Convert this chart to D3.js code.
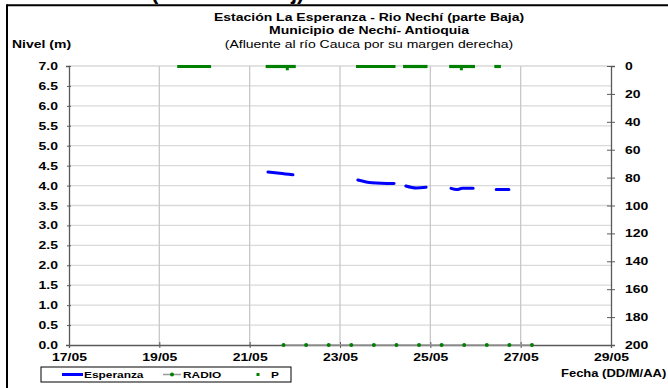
<!DOCTYPE html>
<html><head><meta charset="utf-8">
<script src="https://cdn.jsdelivr.net/npm/d3@7"></script>
<style>
html,body{margin:0;padding:0;background:#fff;}
svg{display:block;font-family:"Liberation Sans",Arial,sans-serif;}
</style></head>
<body>
<svg id="c" width="668" height="388"></svg>
<script>
// ---------- DATA ----------
const titleLines = ["Estación La Esperanza - Rio Nechí  (parte Baja)", "Municipio de Nechí- Antioquia", "(Afluente al río Cauca por su margen derecha)"];
const leftAxisTitle = "Nivel (m)";
const xAxisTitle = "Fecha (DD/M/AA)";
const xTickDates = ["2011-05-17","2011-05-19","2011-05-21","2011-05-23","2011-05-25","2011-05-27","2011-05-29"];
const yLeftTicks = [0,0.5,1,1.5,2,2.5,3,3.5,4,4.5,5,5.5,6,6.5,7];
const yRightTicks = [0,20,40,60,80,100,120,140,160,180,200];

// Esperanza level (m); null breaks the line
const espTimes = ["2011-05-21T09:45","2011-05-21T16:00","2011-05-21T23:00",null,
  "2011-05-23T09:30","2011-05-23T17:00","2011-05-24T04:45",null,
  "2011-05-24T11:00","2011-05-24T16:30","2011-05-24T21:45",null,
  "2011-05-25T11:00","2011-05-25T14:00","2011-05-25T17:00","2011-05-25T22:45",null,
  "2011-05-26T11:00","2011-05-26T17:45"];
const espValues = [4.34,4.31,4.27,null,
  4.14,4.07,4.05,null,
  3.99,3.94,3.96,null,
  3.93,3.90,3.93,3.93,null,
  3.90,3.90];

// RADIO level (m)
const radioTimes = ["2011-05-21T18:00","2011-05-22T06:00","2011-05-22T18:00","2011-05-23T06:00",
  "2011-05-23T18:00","2011-05-24T06:00","2011-05-24T18:00","2011-05-25T06:00",
  "2011-05-25T18:00","2011-05-26T06:00","2011-05-26T18:00","2011-05-27T06:00"];
const radioValues = [0,0,0,0,0,0,0,0,0,0,0,0];

// P (mm, right reversed axis) – continuous runs of readings and single readings
const pRunStart = ["2011-05-19T09:30","2011-05-21T08:30","2011-05-23T08:30","2011-05-24T09:30","2011-05-25T10:00","2011-05-26T10:00"];
const pRunEnd   = ["2011-05-20T03:30","2011-05-22T00:30","2011-05-24T05:30","2011-05-24T22:30","2011-05-25T23:45","2011-05-26T13:30"];
const pRunValue = [0,0,0,0,0,0];
const pPointTimes = ["2011-05-21T20:00","2011-05-25T16:30"];
const pPointValues = [2,2];

// ---------- CHART ----------
const parse = d3.utcParse("%Y-%m-%dT%H:%M");
const parseD = d3.utcParse("%Y-%m-%d");
const pt = s => s ? parse(s) : null;
const SX = 1.4; // horizontal text stretch of original image
const svg = d3.select("#c");
const L=69, R=611, T=66, B=345;

const x = d3.scaleUtc().domain([parseD("2011-05-17"), parseD("2011-05-29")]).range([L,R]);
const yL = d3.scaleLinear().domain([0,7]).range([B,T]);
const yR = d3.scaleLinear().domain([0,200]).range([T,B]);
const xTicks = xTickDates.map(parseD);

// frame
svg.append("line").attr("x1",7).attr("x2",668).attr("y1",5.3).attr("y2",5.3).attr("stroke","#000").attr("stroke-width",2);
svg.append("line").attr("x1",7).attr("x2",7).attr("y1",4.3).attr("y2",388).attr("stroke","#000").attr("stroke-width",2);

// clipped upper title (only its lower edge is visible in the original)
svg.append("text").attr("x",151).attr("y",-1.5).attr("font-size",22).attr("font-weight","bold").text("(");
svg.append("text").attr("x",291).attr("y",-1.5).attr("font-size",22).attr("font-weight","bold").text("j)");

function stretchedText(xp, yp, txt, size, weight, anchor, sx){
  svg.append("g").attr("transform",`translate(${xp},${yp}) scale(${sx||SX},1)`)
    .append("text").attr("font-size",size).attr("font-weight",weight).attr("text-anchor",anchor).attr("fill","#000").text(txt);
}
stretchedText(369, 21, titleLines[0], 10, "bold", "middle");
stretchedText(369, 34, titleLines[1], 10, "bold", "middle");
stretchedText(369, 48, titleLines[2], 10, "normal", "middle");
stretchedText(12, 48, leftAxisTitle, 10, "bold", "start");
stretchedText(561, 377, xAxisTitle, 10, "bold", "start", 1.3);

// gridlines
svg.append("g").selectAll("line").data(yLeftTicks.filter(v=>v>0)).join("line")
  .attr("x1",L).attr("x2",R).attr("y1",d=>yL(d)).attr("y2",d=>yL(d))
  .attr("stroke","#d9d9d9").attr("stroke-width",1.3);
svg.append("g").selectAll("line").data(xTicks.slice(1,-1)).join("line")
  .attr("x1",d=>x(d)).attr("x2",d=>x(d)).attr("y1",T).attr("y2",B)
  .attr("stroke","#c8c8c8").attr("stroke-width",1.3);

// axes
const axisColor = "#5a5a5a";
function styleAxis(g){
  g.select(".domain").attr("stroke",axisColor).attr("stroke-width",1.3);
  g.selectAll(".tick line").attr("stroke",axisColor);
  g.selectAll(".tick text").attr("font-size",10).attr("font-weight","bold").attr("fill","#000")
    .attr("font-family","Liberation Sans, Arial, sans-serif");
}
const gL = svg.append("g").attr("transform",`translate(${L},0)`)
  .call(d3.axisLeft(yL).tickValues(yLeftTicks).tickFormat(d3.format(".1f")).tickSizeOuter(0).tickSize(3));
styleAxis(gL);
gL.selectAll(".tick line").attr("x1",-2).attr("x2",2);
gL.selectAll(".tick text").attr("transform",`scale(${SX},1)`).attr("x",-11/SX).attr("dy","0.35em");

const gR = svg.append("g").attr("transform",`translate(${R},0)`)
  .call(d3.axisRight(yR).tickValues(yRightTicks).tickFormat(d3.format("d")).tickSizeOuter(0).tickSize(4));
styleAxis(gR);
gR.selectAll(".tick line").attr("x1",-4).attr("x2",4);
gR.selectAll(".tick text").attr("transform",`scale(${SX},1)`).attr("x",14/SX).attr("dy","0.35em");

const gB = svg.append("g").attr("transform",`translate(0,${B})`)
  .call(d3.axisBottom(x).tickValues(xTicks).tickFormat(d3.utcFormat("%d/%m")).tickSizeOuter(0).tickSize(3));
styleAxis(gB);
gB.selectAll(".tick line").attr("y1",-3).attr("y2",3);
gB.selectAll(".tick text").attr("transform",`scale(${SX},1)`).attr("y",16).attr("dy",0);

// RADIO
const radio = radioTimes.map((t,i)=>({t:pt(t), v:radioValues[i]}));
svg.append("path").datum(radio)
  .attr("d", d3.line().x(d=>x(d.t)).y(d=>yL(d.v)))
  .attr("fill","none").attr("stroke","#9a9a9a").attr("stroke-width",1.5);
svg.append("g").selectAll("circle").data(radio).join("circle")
  .attr("cx",d=>x(d.t)).attr("cy",d=>yL(d.v)).attr("r",2).attr("fill","#008000");

// P
const pRuns = pRunStart.map((s,i)=>({a:pt(s), b:pt(pRunEnd[i]), v:pRunValue[i]}));
svg.append("g").selectAll("line").data(pRuns).join("line")
  .attr("x1",d=>x(d.a)).attr("x2",d=>x(d.b)).attr("y1",d=>yR(d.v)+0.5).attr("y2",d=>yR(d.v)+0.5)
  .attr("stroke","#008000").attr("stroke-width",3.2);
const pPts = pPointTimes.map((t,i)=>({t:pt(t), v:pPointValues[i]}));
svg.append("g").selectAll("rect").data(pPts).join("rect")
  .attr("x",d=>x(d.t)-1.5).attr("y",d=>yR(d.v)-1.5).attr("width",3).attr("height",3).attr("fill","#008000");

// Esperanza
const esp = espTimes.map((t,i)=>({t:pt(t), v:espValues[i]}));
svg.append("path").datum(esp)
  .attr("d", d3.line().defined(d=>d.t && d.v!=null).x(d=>x(d.t)).y(d=>yL(d.v)).curve(d3.curveMonotoneX))
  .attr("fill","none").attr("stroke","#0000ff").attr("stroke-width",3).attr("stroke-linecap","round").attr("stroke-linejoin","round");

// legend
const lg = svg.append("g");
lg.append("rect").attr("x",41).attr("y",367).attr("width",250).attr("height",15).attr("fill","#fff").attr("stroke","#000").attr("stroke-width",1);
const ly = 374.5;
lg.append("line").attr("x1",62).attr("x2",83).attr("y1",ly).attr("y2",ly).attr("stroke","#0000ff").attr("stroke-width",3);
lg.append("line").attr("x1",163).attr("x2",181).attr("y1",ly).attr("y2",ly).attr("stroke","#9a9a9a").attr("stroke-width",1.5);
lg.append("circle").attr("cx",172).attr("cy",ly).attr("r",2).attr("fill","#008000");
lg.append("rect").attr("x",256.5).attr("y",ly-1.5).attr("width",3).attr("height",3).attr("fill","#008000");
function legText(xp, txt){
  lg.append("g").attr("transform",`translate(${xp},${ly+3})`).append("text")
    .attr("transform",`scale(${SX},1)`).attr("font-size",8.5).attr("font-weight","bold").text(txt);
}
legText(84,"Esperanza");
legText(183,"RADIO");
legText(271,"P");
</script>
</body></html>
